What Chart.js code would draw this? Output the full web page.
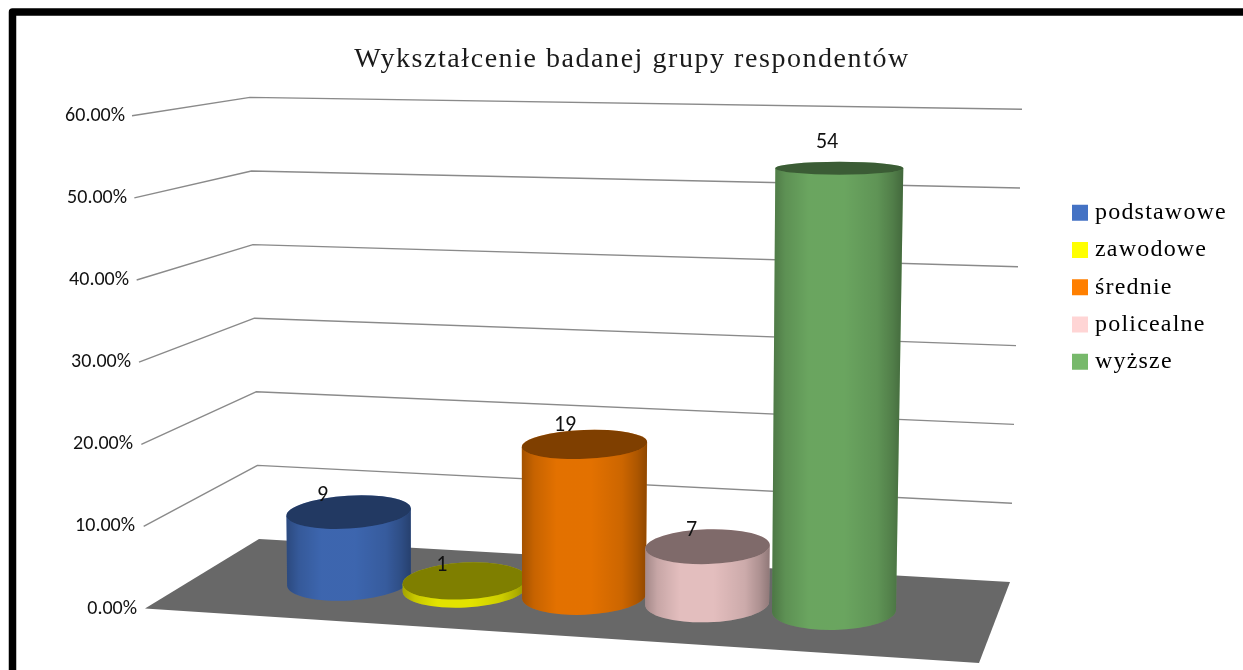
<!DOCTYPE html>
<html><head><meta charset="utf-8">
<style>html,body{margin:0;padding:0;background:#fff;overflow:hidden}canvas{display:block}</style>
<script src="https://cdn.jsdelivr.net/npm/chart.js@4/dist/chart.umd.min.js"></script>
</head><body><canvas id="c" width="1243" height="670"></canvas>
<script>
const categories = ['podstawowe','zawodowe','średnie','policealne','wyższe'];
const percentValues = [9,1,19,7,54];
const seriesColors = ['#4472C4','#FFFF00','#FF7F00','#FFD5D5','#77B96B'];
const chartTitle = 'Wykształcenie badanej grupy respondentów';
const yTickStep = 10, yMax = 60;

/* perspective projection of the 3-D scene */
const clamp01 = v => Math.max(0, Math.min(1, v));
const projX = t => 349 + 113.75*t + 1.875*t*t;
const floorY = cx => 582 + 0.0593*(cx-349);
const ryAt = y => 6.5 + (y-168)*0.0288;
const tiltAt = (cx,y) => -0.06*(1-0.7*(cx-349)/485)*clamp01((y-168)/200);
const LABEL_FONT = "'Carlito','Lato',sans-serif";

const proto = (Chart.BarElement || Chart.registry.getElement('bar')).prototype;
proto.draw = function(ctx){
  const chart = this.$context.chart, xs = chart.scales.x;
  const p0 = xs.getPixelForValue(0), p1 = xs.getPixelForValue(1);
  const t = (this.x-p0)/(p1-p0);
  const cx0 = projX(t), cy0 = floorY(cx0), rx0 = this.width/2;
  const h = (this.base-this.y)*(0.946+0.000107*(cx0-349));
  const cy1 = cy0-h, cx1 = cx0+h*(cx0-500)*3.6e-5, rx1 = rx0+h*0.0045;
  const r0 = ryAt(cy0), r1 = ryAt(cy1), a0 = tiltAt(cx0,cy0), a1 = tiltAt(cx1,cy1);
  const color = this.options.backgroundColor;
  const side = new Path2D();
  side.moveTo(cx1-rx1*Math.cos(a1), cy1-rx1*Math.sin(a1));
  side.lineTo(cx0-rx0*Math.cos(a0), cy0-rx0*Math.sin(a0));
  side.ellipse(cx0,cy0,rx0,r0,a0,Math.PI,0,true);
  side.lineTo(cx1+rx1*Math.cos(a1), cy1+rx1*Math.sin(a1));
  side.closePath();
  ctx.save();
  ctx.fillStyle = color; ctx.fill(side);
  const g = ctx.createLinearGradient(Math.min(cx0-rx0,cx1-rx1),0,Math.max(cx0+rx0,cx1+rx1),0);
  [[0,.36],[.1,.22],[.28,.11],[.55,.11],[.8,.2],[.92,.32],[1,.44]].forEach(s=>g.addColorStop(s[0],'rgba(0,0,0,'+s[1]+')'));
  ctx.fillStyle = g; ctx.fill(side);
  ctx.beginPath(); ctx.ellipse(cx1,cy1,rx1,r1,a1,0,Math.PI*2);
  ctx.fillStyle = color; ctx.fill();
  ctx.fillStyle = 'rgba(0,0,0,.5)'; ctx.fill();
  ctx.restore();
  this.$top = {x:cx1,y:cy1,h};
};

const scene = {
  id:'scene',
  afterLayout(chart){
    const lg = chart.legend, tb = chart.titleBlock;
    lg.left = 1058.75; lg.right = 1243;
    lg.top -= 17; lg.bottom -= 17;
    if(!lg.$wrapped){
      lg.$wrapped = true;
      const ld = lg.draw, td = tb.draw, ctx = chart.ctx;
      lg.draw = function(){
        ctx.save(); ctx.letterSpacing='1.2px';
        const ft = ctx.fillText;
        ctx.fillText = function(s,x,y,m){ return m===undefined ? ft.call(ctx,s,x-5,y) : ft.call(ctx,s,x-5,y,m); };
        ld.call(this);
        delete ctx.fillText; ctx.restore();
      };
      tb.draw = function(){
        ctx.save(); ctx.letterSpacing='1.55px'; td.call(this); ctx.restore();
      };
    }
  },
  beforeDraw(chart){
    const ctx = chart.ctx, y = chart.scales.y;
    ctx.save();
    ctx.strokeStyle='#000'; ctx.lineWidth=7.5; ctx.lineJoin='round';
    ctx.beginPath(); ctx.moveTo(12.5,680); ctx.lineTo(12.5,12); ctx.lineTo(1260,12); ctx.stroke();
    ctx.restore();
    y.getLabelItems(chart.chartArea).forEach((it,i)=>{
      if(it.$s) return; it.$s=true;
      it.options.translation[0] -= 0.2*y.ticks[i].value;
    });
  },
  beforeDatasetsDraw(chart){
    const ctx = chart.ctx, y = chart.scales.y;
    ctx.save();
    ctx.strokeStyle='#8a8a8a'; ctx.lineWidth=1.4; ctx.lineJoin='round';
    y.ticks.forEach(tk=>{
      const v = tk.value; if(v===0) return;
      ctx.beginPath();
      ctx.moveTo(146-v*14/60, y.getPixelForValue(v));
      ctx.lineTo(259-v*9/60, 539-v*7.36);
      ctx.lineTo(1010+v*12/60, 582-v*7.88);
      ctx.stroke();
    });
    const y0 = y.getPixelForValue(0);
    ctx.fillStyle='#686868';
    ctx.beginPath();
    ctx.moveTo(145,y0); ctx.lineTo(259,539); ctx.lineTo(1010,582); ctx.lineTo(979,663); ctx.closePath();
    ctx.fill();
    ctx.restore();
  },
  afterDatasetsDraw(chart){
    const ctx = chart.ctx, meta = chart.getDatasetMeta(0);
    ctx.save();
    ctx.font = "22px "+LABEL_FONT; ctx.fillStyle='#111'; ctx.textAlign='center'; ctx.textBaseline='middle';
    meta.data.forEach((bar,i)=>{
      const p = bar.$top; if(!p) return;
      ctx.fillText(String(percentValues[i]), p.x-26+0.028*(p.x-348), p.y-15-p.h*0.025);
    });
    ctx.restore();
  }
};

new Chart(document.getElementById('c'),{
  type:'bar',
  data:{labels:categories,datasets:[{label:'Wykształcenie',data:percentValues,backgroundColor:seriesColors,clip:false,barThickness:124}]},
  plugins:[scene],
  options:{
    responsive:false,animation:false,
    layout:{padding:{left:21,right:0,top:0,bottom:61.5}},
    plugins:{
      title:{display:true,text:chartTitle,color:'#1a1a1a',font:{family:"'Liberation Serif',serif",size:28,weight:'normal',lineHeight:1.2},padding:{top:43,bottom:39.2}},
      legend:{display:true,position:'right',onClick:null,labels:{boxWidth:16,boxHeight:16,padding:13.25,color:'#111',font:{family:"'Liberation Serif',serif",size:24},
        generateLabels:()=>categories.map((c,i)=>({text:c,fillStyle:seriesColors[i],strokeStyle:'transparent',lineWidth:0,index:i}))}},
      tooltip:{enabled:false}
    },
    scales:{
      x:{display:false,grid:{display:false}},
      y:{min:0,max:yMax,afterFit:s=>{s.width=125;},
        grid:{display:false,drawTicks:false},border:{display:false},
        ticks:{stepSize:yTickStep,padding:9,color:'#111',font:{family:LABEL_FONT,size:20},callback:v=>v.toFixed(2)+'%'}}
    }
  }
});
</script></body></html>
